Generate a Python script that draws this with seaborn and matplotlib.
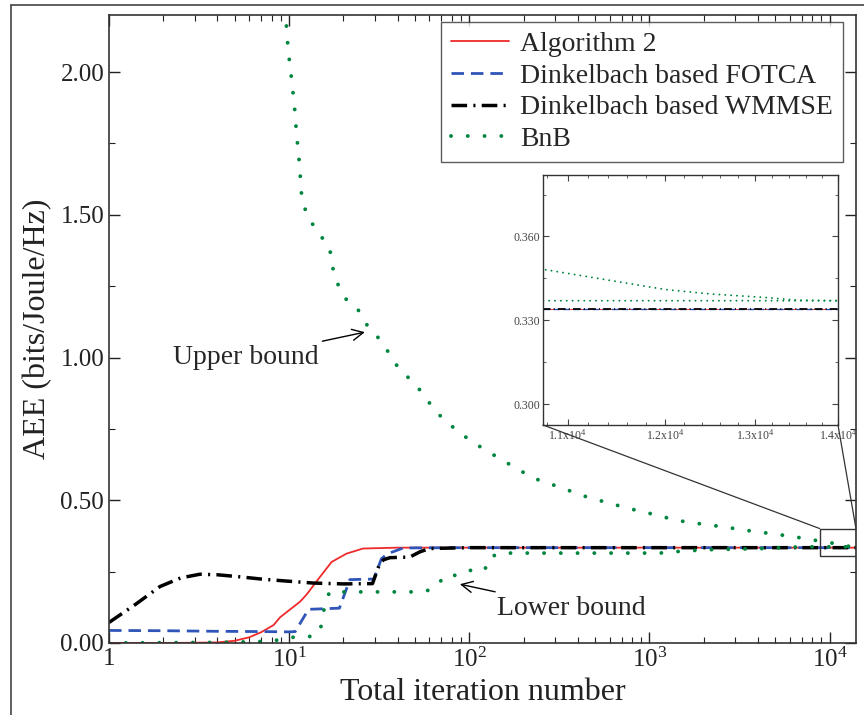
import matplotlib
matplotlib.use("Agg")
import matplotlib.pyplot as plt
import matplotlib.ticker as mticker
from matplotlib.lines import Line2D
from matplotlib.patches import Rectangle, ConnectionPatch
import seaborn as sns

# ---- data ----
alg_x = [1, 2, 3, 4, 5, 6, 7, 8.2, 8.9, 10, 11.5, 12.5, 14.8, 17.2, 20.8, 25.7, 40, 100, 1000, 10000, 14000]
alg_y = [0.0, 0.0, 0.001, 0.002, 0.008, 0.02, 0.038, 0.063, 0.09, 0.115, 0.145, 0.17, 0.231, 0.284, 0.313, 0.331, 0.334, 0.334, 0.334, 0.334, 0.334]

fot_x = [1, 2, 4, 7, 10, 10.8, 12.8, 19, 21.7, 29.5, 32.5, 35, 43, 100, 1000, 10000, 14000]
fot_y = [0.044, 0.043, 0.041, 0.040, 0.039, 0.040, 0.118, 0.122, 0.222, 0.224, 0.295, 0.312, 0.333, 0.334, 0.334, 0.334, 0.334]

wm_x = [1, 1.4, 1.92, 2.5, 3.2, 4, 5.3, 7, 9.2, 13.6, 20, 29, 31.8, 33.5, 36.3, 46.7, 53, 60, 100, 1000, 10000, 14000]
wm_y = [0.072, 0.135, 0.198, 0.228, 0.241, 0.239, 0.232, 0.224, 0.218, 0.21, 0.207, 0.208, 0.278, 0.292, 0.299, 0.301, 0.319, 0.331, 0.334, 0.334, 0.334, 0.334]

lb_x = [1, 2, 4, 7, 9.3, 10.5, 11, 13.3, 14.8, 15.4, 15.8, 16.8, 30, 51, 60, 66.6, 73, 88, 102, 122, 127, 147, 300, 1140, 1530, 2150, 4350, 6240, 8000, 14000]
lb_y = [0.0, 0.001, 0.002, 0.005, 0.012, 0.02, 0.023, 0.023, 0.039, 0.091, 0.144, 0.179, 0.179, 0.179, 0.185, 0.202, 0.237, 0.237, 0.255, 0.255, 0.296, 0.315, 0.315, 0.315, 0.322, 0.327, 0.331, 0.336, 0.337, 0.337]

ub_x = [9.5, 9.6, 9.87, 10.3, 10.7, 11.0, 11.4, 11.7, 12.2, 13.2, 15.0, 16.7, 17.2, 17.7, 18.9, 21.0, 24.2, 26.1,
        29.9, 33.1, 41.1, 46.4, 52.3, 65.7, 87.7, 119, 164, 226, 317, 438, 596, 807, 1100, 1400, 1890, 2560,
        3600, 5060, 6810, 8270, 10800, 12000, 12500, 13100, 13500, 14000]
ub_y = [2.22, 2.183, 2.077, 1.978, 1.879, 1.78, 1.68, 1.575, 1.523, 1.476, 1.425, 1.388, 1.344, 1.291, 1.248, 1.198, 1.166, 1.125,
        1.084, 1.049, 0.956, 0.927, 0.892, 0.808, 0.737, 0.681, 0.629, 0.578, 0.546, 0.514, 0.49, 0.468, 0.448, 0.43, 0.418, 0.407,
        0.393, 0.381, 0.369, 0.36, 0.348, 0.341, 0.3394, 0.3382, 0.3372, 0.337]

labels = ["Algorithm 2", "Dinkelbach based FOTCA", "Dinkelbach based WMMSE", "BnB"]
xticks = [1, 10, 100, 1000, 10000]
xticklabels = ["1", "$10^1$", "$10^2$", "$10^3$", "$10^4$"]
yticks = [0.0, 0.5, 1.0, 1.5, 2.0]
inset_xticks = [11000, 12000, 13000, 14000]
inset_xticklabels = ["1.1x10$^4$", "1.2x10$^4$", "1.3x10$^4$", "1.4x10$^4$"]
inset_yticks = [0.300, 0.330, 0.360]

sns.set_style("ticks", {"xtick.direction": "in", "ytick.direction": "in"})
plt.rcParams["font.family"] = ["Liberation Serif", "DejaVu Serif"]
plt.rcParams["mathtext.fontset"] = "custom"
plt.rcParams["mathtext.rm"] = "Liberation Serif"
plt.rcParams["mathtext.it"] = "Liberation Serif:italic"

RED = "#ee2a2a"
BLUE = "#2f55b8"
GREEN = "#00853f"
DOT = (0, (0.01, 4.3))
DASH = (0, (4.5, 2.5))
DASHDOT = (0, (4.5, 1.8, 0.6, 1.8))


def draw_curves(ax, scale=1.0, dot=DOT):
    sns.lineplot(x=alg_x, y=alg_y, ax=ax, color=RED, lw=1.3 * scale, estimator=None, sort=False, label=labels[0])
    sns.lineplot(x=fot_x, y=fot_y, ax=ax, color=BLUE, lw=2.0 * scale, linestyle=DASH, estimator=None, sort=False, label=labels[1])
    sns.lineplot(x=wm_x, y=wm_y, ax=ax, color="black", lw=2.5 * scale, linestyle=DASHDOT, estimator=None, sort=False, label=labels[2])
    sns.lineplot(x=lb_x, y=lb_y, ax=ax, color=GREEN, lw=2.8 * scale, linestyle=dot, dash_capstyle="round",
                 estimator=None, sort=False, label=labels[3])
    sns.lineplot(x=ub_x, y=ub_y, ax=ax, color=GREEN, lw=2.8 * scale, linestyle=dot, dash_capstyle="round",
                 estimator=None, sort=False)


fig = plt.figure(figsize=(8.64, 7.15), dpi=100)
ax = fig.add_axes([0.1262, 0.1007, 0.8645, 0.8783])
ax.set_xscale("log")
draw_curves(ax)

ax.set_xlim(1, 14000)
ax.set_ylim(0, 2.2)
ax.set_xticks(xticks)
ax.set_xticklabels(xticklabels)
ax.xaxis.set_minor_locator(mticker.LogLocator(base=10, subs=range(2, 10)))
ax.xaxis.set_minor_formatter(mticker.NullFormatter())
ax.set_yticks(yticks)
ax.yaxis.set_major_formatter(mticker.FormatStrFormatter("%.2f"))
ax.yaxis.set_minor_locator(mticker.MultipleLocator(0.25))
ax.tick_params(which="both", direction="in", top=True, right=True, labelsize=18, colors="#222222")
ax.tick_params(which="major", length=8, width=1)
ax.tick_params(which="minor", length=4, width=0.8)
for s in ax.spines.values():
    s.set_color("#333333")
    s.set_linewidth(1.2)
ax.set_xlabel("Total iteration number", fontsize=23, color="#222222", labelpad=4)
ax.set_ylabel("AEE (bits/Joule/Hz)", fontsize=23, color="#222222", labelpad=6)

leg = ax.legend(loc="upper right", bbox_to_anchor=(0.9826, 0.9889), fontsize=20, frameon=True, fancybox=False,
                edgecolor="#333333", handlelength=2.1, borderaxespad=0.0, labelspacing=0.22, borderpad=0.35,
                handletextpad=0.4)
leg.get_frame().set_linewidth(1.0)

ax.annotate("Upper bound", xy=(26.3, 1.089), xytext=(14.5, 1.0), fontsize=20, ha="right", va="center",
            arrowprops=dict(arrowstyle="->", color="black", lw=1.0, shrinkA=2, shrinkB=0))
ax.annotate("Lower bound", xy=(88.6, 0.206), xytext=(142, 0.122), fontsize=20, ha="left", va="center",
            arrowprops=dict(arrowstyle="->", color="black", lw=1.0, shrinkA=2, shrinkB=0))

# zoom box on the main plot
box = Rectangle((8800, 0.305), 14000 - 8800, 0.096, fill=False, edgecolor="#333333", lw=1.0, zorder=5)
ax.add_patch(box)

# inset
axin = fig.add_axes([0.6285, 0.4056, 0.3414, 0.3496])
axin.set_xscale("log")
draw_curves(axin, scale=0.5, dot=(0, (0.01, 3.0)))
if axin.get_legend() is not None:
    axin.get_legend().remove()
axin.set_xlim(10760, 14000)
axin.set_ylim(0.2925, 0.382)
axin.set_xticks(inset_xticks)
axin.set_xticklabels(inset_xticklabels)
axin.xaxis.set_minor_locator(mticker.FixedLocator(list(range(10800, 14000, 200))))
axin.xaxis.set_minor_formatter(mticker.NullFormatter())
axin.set_yticks(inset_yticks)
axin.yaxis.set_major_formatter(mticker.FormatStrFormatter("%.3f"))
axin.yaxis.set_minor_locator(mticker.MultipleLocator(0.015))
axin.tick_params(which="both", direction="in", top=True, right=True, labelsize=8.5, colors="#444444", pad=2)
axin.tick_params(which="major", length=4)
axin.tick_params(which="minor", length=2)
axin.set_xlabel("")
axin.set_ylabel("")
for s in axin.spines.values():
    s.set_color("#333333")
    s.set_linewidth(1.0)

for xa, xb in [((0, 0), (8800, 0.401)), ((1, 0), (14000, 0.401))]:
    con = ConnectionPatch(xyA=xa, coordsA=axin.transAxes, xyB=xb, coordsB=ax.transData,
                          color="#333333", lw=0.9)
    fig.add_artist(con)

# outer frame lines
fig.add_artist(Line2D([0.0127, 1.0], [0.993, 0.993], color="#444444", lw=1.2))
fig.add_artist(Line2D([0.0127, 0.0127], [0.0, 0.993], color="#444444", lw=1.2))

fig.savefig("out.png", dpi=100)
